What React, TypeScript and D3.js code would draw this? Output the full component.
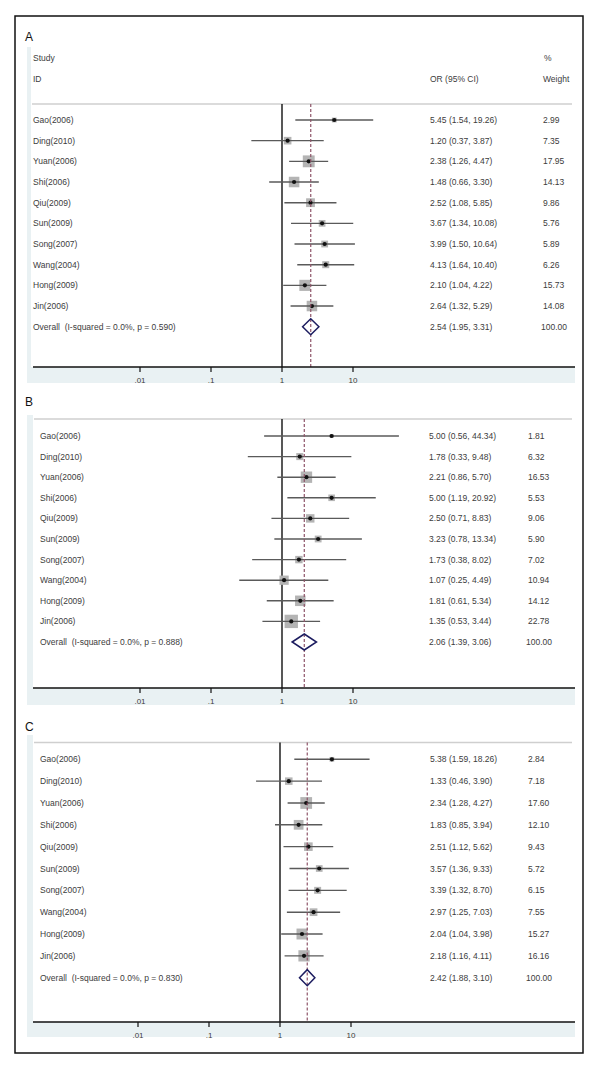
import React from "react";
import * as d3 from "d3";

const studies = ["Gao(2006)", "Ding(2010)", "Yuan(2006)", "Shi(2006)", "Qiu(2009)", "Sun(2009)", "Song(2007)", "Wang(2004)", "Hong(2009)", "Jin(2006)"];

const orA = [5.45, 1.2, 2.38, 1.48, 2.52, 3.67, 3.99, 4.13, 2.1, 2.64];
const loA = [1.54, 0.37, 1.26, 0.66, 1.08, 1.34, 1.5, 1.64, 1.04, 1.32];
const hiA = [19.26, 3.87, 4.47, 3.3, 5.85, 10.08, 10.64, 10.4, 4.22, 5.29];
const wA = [2.99, 7.35, 17.95, 14.13, 9.86, 5.76, 5.89, 6.26, 15.73, 14.08];

const orB = [5.0, 1.78, 2.21, 5.0, 2.5, 3.23, 1.73, 1.07, 1.81, 1.35];
const loB = [0.56, 0.33, 0.86, 1.19, 0.71, 0.78, 0.38, 0.25, 0.61, 0.53];
const hiB = [44.34, 9.48, 5.7, 20.92, 8.83, 13.34, 8.02, 4.49, 5.34, 3.44];
const wB = [1.81, 6.32, 16.53, 5.53, 9.06, 5.9, 7.02, 10.94, 14.12, 22.78];

const orC = [5.38, 1.33, 2.34, 1.83, 2.51, 3.57, 3.39, 2.97, 2.04, 2.18];
const loC = [1.59, 0.46, 1.28, 0.85, 1.12, 1.36, 1.32, 1.25, 1.04, 1.16];
const hiC = [18.26, 3.9, 4.27, 3.94, 5.62, 9.33, 8.7, 7.03, 3.98, 4.11];
const wC = [2.84, 7.18, 17.6, 12.1, 9.43, 5.72, 6.15, 7.55, 15.27, 16.16];

const overallOR = [2.54, 2.06, 2.42];
const overallLo = [1.95, 1.39, 1.88];
const overallHi = [3.31, 3.06, 3.1];
const overallP = ["0.590", "0.888", "0.830"];
const panelLabels = ["A", "B", "C"];

const tickValues = [0.01, 0.1, 1, 10];
const tickLabels = [".01", ".1", "1", "10"];

const seriesOR = [orA, orB, orC];
const seriesLo = [loA, loB, loC];
const seriesHi = [hiA, hiB, hiC];
const seriesW = [wA, wB, wC];

const layouts = [
  { labelY: 37, top: 47, sep: 104, row0: 120, step: 20.67, axisY: 367, bottom: 383, stripW: 4, textX: 33, valX: 430, wX: 543, nullX: 282, header: true },
  { labelY: 402, top: 415, sep: 419, row0: 436, step: 20.6, axisY: 688, bottom: 705, stripW: 6, textX: 40, valX: 429, wX: 528, nullX: 282, header: false },
  { labelY: 727, top: 735, sep: 742.5, row0: 759.3, step: 21.84, axisY: 1022, bottom: 1037, stripW: 6, textX: 40, valX: 430, wX: 528, nullX: 280, header: false },
];

const fmt = d3.format(".2f");
const FONT = "'Liberation Sans', Arial, sans-serif";
const TXT = "#3c3c3c";
const REGION = "#e9f1f3";
const LEFT = 27;
const RIGHT = 575;
const DECADE = 71;

function Panel({ i }: { i: number }) {
  const L = layouts[i];
  const x = d3.scaleLog().domain([0.01, 10]).range([L.nullX - 2 * DECADE, L.nullX + DECADE]);
  const y = (k: number) => L.row0 + k * L.step;
  const ors = seriesOR[i], los = seriesLo[i], his = seriesHi[i], ws = seriesW[i];
  const oy = y(studies.length);
  const ox = x(overallOR[i]);
  const dl = x(overallLo[i]);
  const dr = x(overallHi[i]);
  return (
    <g>
      <text x={25} y={L.labelY + 4} fontSize={12} fill="#111" fontFamily={FONT}>{panelLabels[i]}</text>
      <rect x={LEFT} y={L.top} width={RIGHT - LEFT} height={L.bottom - L.top} fill={REGION} />
      <rect x={LEFT + L.stripW} y={L.top} width={RIGHT - LEFT - L.stripW} height={L.axisY - L.top} fill="#fff" />
      {L.header && (
        <g fontSize={8.5} fill={TXT} fontFamily={FONT}>
          <text x={L.textX} y={61}>Study</text>
          <text x={L.textX} y={82}>ID</text>
          <text x={L.valX} y={82}>OR (95% CI)</text>
          <text x={L.wX + 1} y={61}>%</text>
          <text x={L.wX} y={82}>Weight</text>
        </g>
      )}
      <line x1={LEFT + L.stripW + 1} x2={RIGHT - 3} y1={L.sep} y2={L.sep} stroke="#cfcfcf" strokeWidth={1.5} />
      <line x1={x(1)} x2={x(1)} y1={L.sep} y2={L.axisY} stroke="#111" strokeWidth={1.4} />
      {studies.map((s, k) => {
        const side = 2.8 * Math.sqrt(ws[k]);
        return (
          <g key={s}>
            <rect x={x(ors[k]) - side / 2} y={y(k) - side / 2} width={side} height={side} fill="#b4b4b4" />
            <line x1={x(los[k])} x2={x(his[k])} y1={y(k)} y2={y(k)} stroke="#5a5a5a" strokeWidth={1.4} />
            <circle cx={x(ors[k])} cy={y(k)} r={2.1} fill="#111" />
            <text x={L.textX} y={y(k) + 3} fontSize={8.5} fill={TXT} fontFamily={FONT}>{s}</text>
            <text x={L.valX} y={y(k) + 3} fontSize={8.5} fill={TXT} fontFamily={FONT}>
              {`${fmt(ors[k])} (${fmt(los[k])}, ${fmt(his[k])})`}
            </text>
            <text x={L.wX} y={y(k) + 3} fontSize={8.5} fill={TXT} fontFamily={FONT}>{fmt(ws[k])}</text>
          </g>
        );
      })}
      <line x1={ox} x2={ox} y1={L.sep} y2={L.axisY} stroke="#8e5468" strokeWidth={1.2} strokeDasharray="3,2" />
      <path
        d={`M${dl},${oy} L${ox},${oy - 8} L${dr},${oy} L${ox},${oy + 8} Z`}
        fill="none"
        stroke="#1d1d60"
        strokeWidth={1.5}
      />
      <text x={L.textX} y={oy + 3} fontSize={8.5} fill={TXT} fontFamily={FONT} style={{ whiteSpace: "pre" }}>
        {`Overall  (I-squared = 0.0%, p = ${overallP[i]})`}
      </text>
      <text x={L.valX} y={oy + 3} fontSize={8.5} fill={TXT} fontFamily={FONT}>
        {`${fmt(overallOR[i])} (${fmt(overallLo[i])}, ${fmt(overallHi[i])})`}
      </text>
      <text x={L.wX - 2} y={oy + 3} fontSize={8.5} fill={TXT} fontFamily={FONT}>100.00</text>
      <line x1={LEFT + 6} x2={RIGHT} y1={L.axisY} y2={L.axisY} stroke="#111" strokeWidth={1.4} />
      {tickValues.map((t, k) => (
        <g key={t}>
          <line x1={x(t)} x2={x(t)} y1={L.axisY} y2={L.axisY + 5} stroke="#111" strokeWidth={1.2} />
          <text x={x(t)} y={L.axisY + 16} fontSize={8} fill={TXT} textAnchor="middle" fontFamily={FONT}>
            {tickLabels[k]}
          </text>
        </g>
      ))}
    </g>
  );
}

export default function App() {
  return (
    <svg width={600} height={1074} style={{ position: "absolute", left: 0, top: 0, background: "#fff" }}>
      <rect x={0} y={0} width={600} height={1074} fill="#fff" />
      <rect x={15} y={16} width={568} height={1037} fill="none" stroke="#111" strokeWidth={1.5} />
      {[0, 1, 2].map((i) => (
        <Panel key={i} i={i} />
      ))}
    </svg>
  );
}
